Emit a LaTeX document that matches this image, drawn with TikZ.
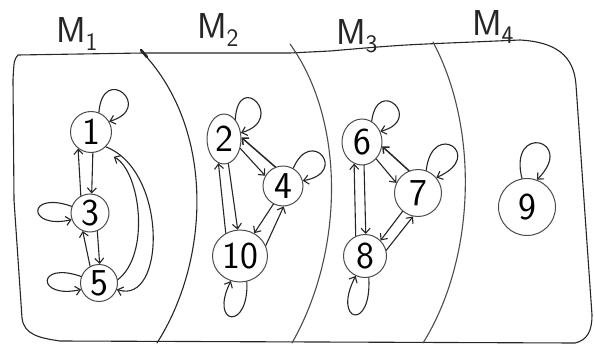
\documentclass[tikz,border=0pt]{standalone}
\usepackage{fontspec}
\usetikzlibrary{arrows.meta,shapes.geometric}
\tikzset{
  pen/.style={draw=black!85,line width=1.1pt,line cap=round,line join=round},
  st/.style={circle,draw=black!70,line width=1pt,inner sep=0pt,font=\sffamily\fontsize{38}{38}\selectfont},
  ed/.style={pen,-{Straight Barb[length=5pt,width=9pt]}},
  lp/.style={ed},
  lab/.style={font=\sffamily\fontsize{36}{36}\selectfont,text=black!85}
}
\begin{document}
\begin{tikzpicture}[x=1pt,y=-1pt]
\useasboundingbox (0,0) rectangle (595,345);
% outer boundary
\draw[pen] (18,55) .. controls (14,60) .. (13,80) -- (14,200) -- (22,318)
  .. controls (24,335) and (40,338) .. (60,341) -- (575,343)
  .. controls (588,340) and (592,330) .. (592,315) -- (584,200) -- (576,85)
  .. controls (574,55) and (555,42) .. (520,40) -- (473,42)
  .. controls (400,45) .. (330,51) -- (290,53) -- (143,53) -- (18,55);
% dividers
\draw[pen] (143,53) .. controls (215,130) and (210,260) .. (157,343);
\draw[pen,line width=2.6pt] (141,50) -- (147,57);
\draw[pen,draw=black!70] (290,44) .. controls (345,120) and (345,250) .. (292,343);
\draw[pen,draw=black!70] (433,42) .. controls (480,130) and (475,260) .. (423,343);
% labels
\node[lab] (m1) at (77,34) {M\textsubscript{1}};
\node[lab] (m2) at (218,30) {M\textsubscript{2}};
\node[lab] (m3) at (357,36) {M\textsubscript{3}};
\node[lab] (m4) at (493,27) {M\textsubscript{4}};
% nodes
\node[st,minimum size=41pt] (n1) at (91,132) {1};
\node[st,minimum size=38pt] (n3) at (90,213) {3};
\node[st,minimum size=37pt] (n5) at (99,283) {5};
\node[st,ellipse,minimum width=34pt,minimum height=50pt] (n2) at (224,139) {2};
\node[st,minimum size=40pt] (n4) at (283,186) {4};
\node[st,ellipse,minimum width=55pt,minimum height=52pt] (n10) at (240,256) {10};
\node[st,ellipse,minimum width=40pt,minimum height=46pt] (n6) at (362,142) {6};
\node[st,minimum size=47pt] (n7) at (418,193) {7};
\node[st,minimum size=43pt] (n8) at (365,256) {8};
\node[st,minimum size=57pt] (n9) at (527,207) {9};
% self loops
\draw[lp] (n1.68) .. controls +(4,-50) and +(46,-14) .. (n1.30);
\draw[lp] (n3.160) .. controls +(-45,-16) and +(-45,10) .. (n3.200);
\draw[lp] (n5.160) .. controls +(-45,-16) and +(-45,10) .. (n5.200);
\draw[lp] (n2.60) .. controls +(3,-50) and +(46,-14) .. (n2.20);
\draw[lp] (n4.60) .. controls +(18,-42) and +(46,-8) .. (n4.15);
\draw[lp] (n10.-75) .. controls +(2,50) and +(-22,44) .. (n10.-110);
\draw[lp] (n6.65) .. controls +(6,-46) and +(44,-12) .. (n6.30);
\draw[lp] (n7.70) .. controls +(6,-52) and +(50,-22) .. (n7.40);
\draw[lp] (n8.-80) .. controls +(3,55) and +(-24,46) .. (n8.-115);
\draw[lp] (n9.100) .. controls +(-14,-56) and +(40,-40) .. (n9.70);
% M1 edges
\draw[ed] (n1.-85) -- (n3.85);
\draw[ed] (n3.118) -- (n1.-128);
\draw[ed] (n3.-68) -- (n5.88);
\draw[ed] (n5.118) -- (n3.-112);
\draw[ed] (n1.-45) .. controls +(62,24) and +(49,16) .. (n5.-20);
\draw[ed,shorten >=14pt] (n5.10) .. controls +(33,-25) and +(39,21) .. (n1.-60);
% M2 edges
\draw[ed] (n2.-80) -- (n10.95);
\draw[ed] (n10.122) -- (n2.-103);
\draw[ed] (n2.-30) -- (n4.150);
\draw[ed,line width=1.5pt] (n4.112) -- (n2.5);
\draw[ed] (n4.-118) -- (n10.58);
\draw[ed] (n10.22) -- (n4.-88);
% M3 edges
\draw[ed] (n6.-85) -- (n8.88);
\draw[ed] (n8.115) -- (n6.-110);
\draw[ed] (n6.-50) -- (n7.155);
\draw[ed,line width=1.5pt] (n7.112) -- (n6.-12);
\draw[ed] (n7.-130) -- (n8.45);
\draw[ed] (n8.15) -- (n7.-102);
\end{tikzpicture}
\end{document}
